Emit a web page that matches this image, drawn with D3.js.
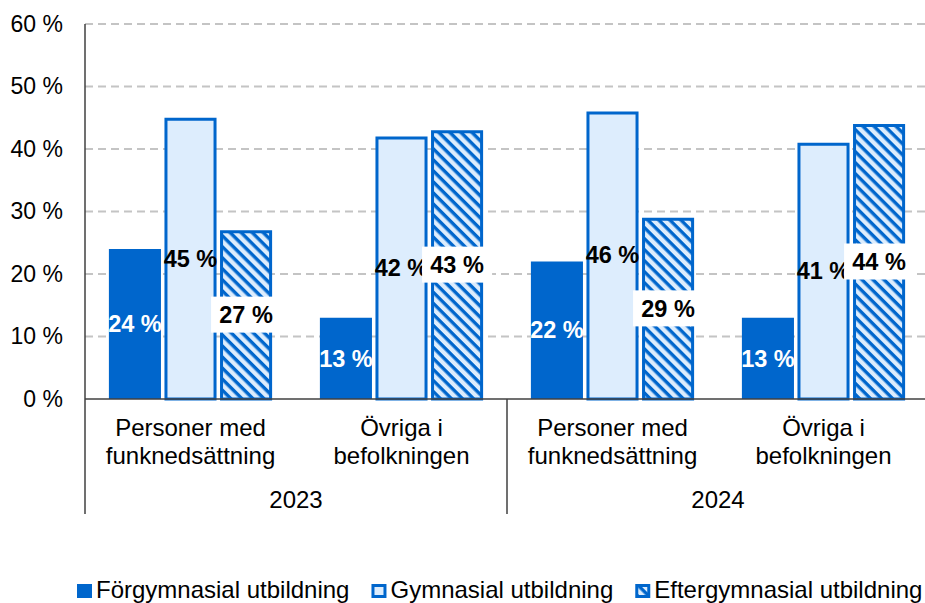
<!DOCTYPE html>
<html>
<head>
<meta charset="utf-8">
<script src="https://cdn.jsdelivr.net/npm/d3@7"></script>
<style>
  body { margin: 0; background: #fff; }
  text { font-family: "Liberation Sans", Arial, sans-serif; fill: #000; }
</style>
</head>
<body>
<script>
// data
var years = ["2023", "2024"]
var groups = ["Personer med\nfunknedsättning", "Övriga i\nbefolkningen"]
var categories = ["2023|0", "2023|1", "2024|0", "2024|1"]
var series = ["Förgymnasial utbildning", "Gymnasial utbildning", "Eftergymnasial utbildning"]
var forgymnasial = [24, 13, 22, 13]
var gymnasial = [45, 42, 46, 41]
var eftergymnasial = [27, 43, 29, 44]
var yTicks = [0, 10, 20, 30, 40, 50, 60]

var blue = "#0066cc"
var light = "#ddedfd"

function main() {
  var width = 925, height = 603
  var left = 85, right = 929, top = 24, bottom = 399

  var svg = d3.select("body").append("svg").attr("width", width).attr("height", height)

  var defs = svg.append("defs")
  var pat = defs.append("pattern")
    .attr("id", "hatch")
    .attr("patternUnits", "userSpaceOnUse")
    .attr("width", 7.8).attr("height", 7.8)
    .attr("patternTransform", "rotate(45)")
  pat.append("rect").attr("width", 7.8).attr("height", 7.8).attr("fill", light)
  pat.append("line")
    .attr("x1", 0).attr("x2", 7.8).attr("y1", 1.7).attr("y2", 1.7)
    .attr("stroke", blue).attr("stroke-width", 3.4)

  var x0 = d3.scaleBand().domain(categories).range([left, right])
  var x1 = d3.scaleBand().domain(series).range([0, x0.bandwidth()])
    .paddingInner(0.063).paddingOuter(0.43)
  var y = d3.scaleLinear().domain([0, 60]).range([bottom, top])

  // gridlines
  svg.selectAll(".grid")
    .data(yTicks.filter(function(d) { return d > 0 }))
    .enter().append("line")
    .attr("x1", left).attr("x2", width)
    .attr("y1", function(d) { return y(d) }).attr("y2", function(d) { return y(d) })
    .attr("stroke", "#c4c4c4").attr("stroke-width", 2).attr("stroke-dasharray", "8,5")

  // y axis labels
  var yAxis = d3.axisLeft(y).tickValues(yTicks).tickSize(0).tickPadding(22)
    .tickFormat(function(d) { return d + " %" })
  var gy = svg.append("g").attr("transform", "translate(" + left + ",0)").call(yAxis)
  gy.select(".domain").remove()
  gy.selectAll("text").attr("font-size", 23).attr("font-family", null).attr("fill", "#000")

  var values = [forgymnasial, gymnasial, eftergymnasial]

  // bars
  for (var s = 0; s < series.length; s++) {
    svg.selectAll(".bar" + s)
      .data(values[s])
      .enter().append("rect")
      .attr("class", "bar" + s)
      .attr("x", function(d, i) { return x0(categories[i]) + x1(series[s]) + (s == 0 ? 0 : 1.5) })
      .attr("width", s == 0 ? x1.bandwidth() : x1.bandwidth() - 3)
      .attr("y", function(d) { return y(d) + (s == 0 ? 0 : 1.5) })
      .attr("height", function(d) { return bottom - y(d) - (s == 0 ? 0 : 1.5) })
      .attr("fill", s == 0 ? blue : (s == 1 ? light : "url(#hatch)"))
      .attr("stroke", s == 0 ? "none" : blue)
      .attr("stroke-width", 3)
  }

  // axis lines
  svg.append("line").attr("x1", left).attr("x2", width).attr("y1", bottom).attr("y2", bottom)
    .attr("stroke", "#404040").attr("stroke-width", 1.5)
  svg.append("line").attr("x1", left).attr("x2", left).attr("y1", top).attr("y2", 514)
    .attr("stroke", "#404040").attr("stroke-width", 1.5)
  var sepX = x0(categories[2])
  svg.append("line").attr("x1", sepX).attr("x2", sepX).attr("y1", bottom).attr("y2", 514)
    .attr("stroke", "#404040").attr("stroke-width", 1.5)

  // value labels
  for (var s = 0; s < series.length; s++) {
    values[s].forEach(function(d, i) {
      var cx = x0(categories[i]) + x1(series[s]) + x1.bandwidth() / 2
      var cy = y(d / 2)
      if (s == 2) {
        svg.append("rect").attr("x", cx - 35).attr("y", cy - 18)
          .attr("width", 70).attr("height", 36).attr("fill", "#fff")
      }
      svg.append("text")
        .text(d + " %")
        .attr("x", cx).attr("y", cy).attr("dy", "0.35em")
        .attr("text-anchor", "middle")
        .attr("font-size", 23.5).attr("font-weight", "bold")
        .style("fill", s == 0 ? "#fff" : "#000")
    })
  }

  // category labels
  categories.forEach(function(c, i) {
    var lines = groups[i % 2].split("\n")
    var cx = x0(c) + x0.bandwidth() / 2
    lines.forEach(function(line, k) {
      svg.append("text").text(line)
        .attr("x", cx).attr("y", 436 + k * 28)
        .attr("text-anchor", "middle").attr("font-size", 24)
    })
  })
  years.forEach(function(yr, j) {
    var cx = (x0(categories[j * 2]) + x0(categories[j * 2 + 1]) + x0.bandwidth()) / 2
    svg.append("text").text(yr)
      .attr("x", cx).attr("y", 508)
      .attr("text-anchor", "middle").attr("font-size", 24)
  })

  // legend
  var lx = 77
  series.forEach(function(name, s) {
    if (s == 0) {
      svg.append("rect").attr("x", lx).attr("y", 584).attr("width", 15).attr("height", 14).attr("fill", blue)
    } else {
      svg.append("rect").attr("x", lx + 1.5).attr("y", 585.5).attr("width", 12).attr("height", 11)
        .attr("fill", s == 1 ? light : "url(#hatch)").attr("stroke", blue).attr("stroke-width", 3)
    }
    var t = svg.append("text").text(name)
      .attr("x", lx + 19).attr("y", 598).attr("font-size", 24)
    lx += 19 + t.node().getComputedTextLength() + 22
  })
}

main()
</script>
</body>
</html>
